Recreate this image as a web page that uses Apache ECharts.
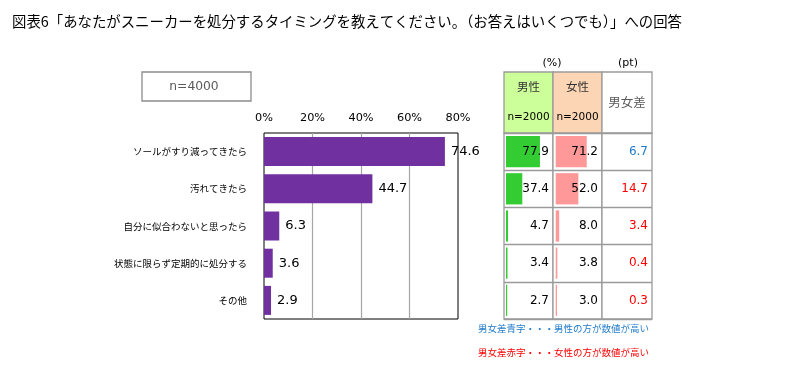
<!DOCTYPE html>
<html><head><meta charset="utf-8">
<script src="https://cdn.jsdelivr.net/npm/echarts@6/dist/echarts.min.js"></script>
<style>html,body{margin:0;padding:0;background:#fff}#c{width:810px;height:376px}</style>
</head><body><div id="c"></div>
<script>
const titleText = '図表6「あなたがスニーカーを処分するタイミングを教えてください。（お答えはいくつでも）」への回答';
const categories = ['ソールがすり減ってきたら', '汚れてきたら', '自分に似合わないと思ったら', '状態に限らず定期的に処分する', 'その他'];
const totalValues = [74.6, 44.7, 6.3, 3.6, 2.9];
const maleValues = [77.9, 37.4, 4.7, 3.4, 2.7];
const femaleValues = [71.2, 52.0, 8.0, 3.8, 3.0];
const diffValues = [6.7, 14.7, 3.4, 0.4, 0.3];
const xTicks = [0, 20, 40, 60, 80];

const FONT = '"Noto Sans CJK JP", "Noto Sans", sans-serif';
const NUM = '"DejaVu Sans", "Noto Sans CJK JP", sans-serif';
const BLUE = '#1f7bcc', RED = '#ff0000', GRAY = '#9a9a9a';
const chart = echarts.init(document.getElementById('c'), null, {renderer: 'canvas'});

// table geometry (pixel layout)
const pxPerUnit = 0.436;
const colM = [504, 553], colF = [553, 602], colD = [602, 652];
const barStartM = 506, barStartF = 555.7;
const tTop = 133, tBottom = 319;
function colMin(col, start) { return -(start - col[0]) / pxPerUnit; }
function colMax(col, start) { return colMin(col, start) + (col[1] - col[0]) / pxPerUnit; }

function tableGrid(col) {
  return {left: col[0], width: col[1] - col[0], top: tTop, height: tBottom - tTop,
    show: true, borderColor: GRAY, borderWidth: 1.3, backgroundColor: '#fff'};
}
function hiddenX(gi, min, max) {
  return {type: 'value', gridIndex: gi, min: min, max: max, show: false};
}
function catY(gi) {
  return {type: 'category', gridIndex: gi, inverse: true, data: categories,
    axisLabel: {show: false}, axisTick: {show: false}, axisLine: {show: false},
    splitLine: {show: true, lineStyle: {color: GRAY, width: 1.3}}};
}
function valueY(gi, arr, colorFn) {
  return {type: 'category', gridIndex: gi, inverse: true, position: 'right', z: 10,
    data: arr.map(v => v.toFixed(1)),
    axisLabel: {inside: true, margin: 4, fontSize: 12, fontFamily: NUM,
      color: colorFn || '#000'},
    axisTick: {show: false}, axisLine: {show: false}, splitLine: {show: false}};
}

const option = {
  backgroundColor: '#fff',
  animation: false,
  textStyle: {fontFamily: FONT},
  title: {text: titleText, left: 7, top: 9,
    textStyle: {fontSize: 14.4, fontWeight: 'normal', color: '#000', fontFamily: FONT}},
  grid: [
    {left: 264, width: 194, top: tTop, height: tBottom - tTop, show: true, borderColor: '#000', borderWidth: 1},
    tableGrid(colM), tableGrid(colF), tableGrid(colD)
  ],
  xAxis: [
    {type: 'value', gridIndex: 0, position: 'top', min: xTicks[0], max: xTicks[xTicks.length - 1], interval: 20,
      axisLabel: {formatter: '{value}%', fontSize: 11.3, color: '#000', margin: 9, fontFamily: NUM},
      axisLine: {show: false}, axisTick: {show: false},
      splitLine: {show: true, showMinLine: false, showMaxLine: false, lineStyle: {color: '#a6a6a6', width: 1.2}}},
    hiddenX(1, colMin(colM, barStartM), colMax(colM, barStartM)),
    hiddenX(2, colMin(colF, barStartF), colMax(colF, barStartF)),
    hiddenX(3, 0, 100),
    hiddenX(1, colMin(colM, barStartM), colMax(colM, barStartM)),
    hiddenX(2, colMin(colF, barStartF), colMax(colF, barStartF)),
    hiddenX(3, 0, 100)
  ],
  yAxis: [
    {type: 'category', gridIndex: 0, inverse: true, data: categories,
      axisLabel: {fontSize: 9.5, color: '#000', margin: 17, fontFamily: FONT},
      axisTick: {show: false}, axisLine: {show: false}},
    catY(1), catY(2), catY(3),
    valueY(1, maleValues), valueY(2, femaleValues),
    valueY(3, diffValues, (v, i) => maleValues[i] > femaleValues[i] ? BLUE : RED)
  ],
  series: [
    {type: 'bar', xAxisIndex: 0, yAxisIndex: 0, data: totalValues, barCategoryGap: '22%',
      itemStyle: {color: '#7030a0'},
      label: {show: true, position: 'right', distance: 6, fontSize: 13, color: '#000', fontFamily: NUM,
        formatter: p => p.value.toFixed(1)}},
    {type: 'bar', xAxisIndex: 1, yAxisIndex: 1, data: maleValues, barCategoryGap: '16%',
      itemStyle: {color: '#33cc33'}},
    {type: 'bar', xAxisIndex: 2, yAxisIndex: 2, data: femaleValues, barCategoryGap: '16%',
      itemStyle: {color: '#ff9999'}}
  ],
  graphic: [
    {type: 'rect', shape: {x: 142, y: 72, width: 109, height: 29},
      style: {fill: '#fff', stroke: '#8c8c8c', lineWidth: 1.3}},
    {type: 'text', x: 194, y: 86.5, style: {text: 'n=4000', fontSize: 12.3, fill: '#595959', fontFamily: NUM,
      align: 'center', verticalAlign: 'middle'}},
    {type: 'text', x: 552, y: 63, style: {text: '(%)', fontSize: 11, fill: '#000', fontFamily: NUM,
      align: 'center', verticalAlign: 'middle'}},
    {type: 'text', x: 628, y: 63, style: {text: '(pt)', fontSize: 11, fill: '#000', fontFamily: NUM,
      align: 'center', verticalAlign: 'middle'}},
    {type: 'rect', shape: {x: colM[0], y: 72, width: colM[1] - colM[0], height: tTop - 72},
      style: {fill: '#ccff99', stroke: GRAY, lineWidth: 1.3}},
    {type: 'rect', shape: {x: colF[0], y: 72, width: colF[1] - colF[0], height: tTop - 72},
      style: {fill: '#fcd5b4', stroke: GRAY, lineWidth: 1.3}},
    {type: 'rect', shape: {x: colD[0], y: 72, width: colD[1] - colD[0], height: tTop - 72},
      style: {fill: '#fff', stroke: GRAY, lineWidth: 1.3}},
    {type: 'text', x: (colM[0] + colM[1]) / 2, y: 87, style: {text: '男性', fontSize: 11.5, fill: '#333', fontFamily: FONT, align: 'center', verticalAlign: 'middle'}},
    {type: 'text', x: (colM[0] + colM[1]) / 2, y: 117, style: {text: 'n=2000', fontSize: 10.5, fill: '#000', fontFamily: NUM, align: 'center', verticalAlign: 'middle'}},
    {type: 'text', x: (colF[0] + colF[1]) / 2, y: 87, style: {text: '女性', fontSize: 11.5, fill: '#333', fontFamily: FONT, align: 'center', verticalAlign: 'middle'}},
    {type: 'text', x: (colF[0] + colF[1]) / 2, y: 117, style: {text: 'n=2000', fontSize: 10.5, fill: '#000', fontFamily: NUM, align: 'center', verticalAlign: 'middle'}},
    {type: 'text', x: (colD[0] + colD[1]) / 2, y: 102, style: {text: '男女差', fontSize: 12.5, fill: '#595959', fontFamily: FONT, align: 'center', verticalAlign: 'middle'}},
    {type: 'text', x: 478, y: 328, style: {text: '男女差青字・・・男性の方が数値が高い', fontSize: 9.5, fill: BLUE, fontFamily: FONT, verticalAlign: 'middle'}},
    {type: 'text', x: 478, y: 352, style: {text: '男女差赤字・・・女性の方が数値が高い', fontSize: 9.5, fill: RED, fontFamily: FONT, verticalAlign: 'middle'}}
  ]
};
chart.setOption(option);
</script>
</body></html>
